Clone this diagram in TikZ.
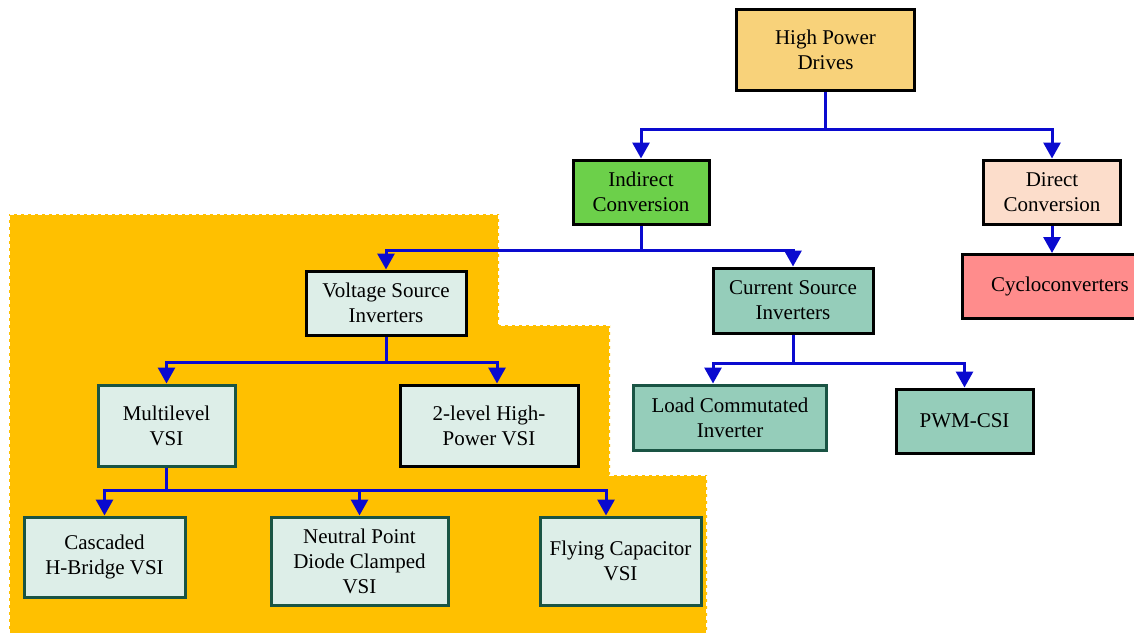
\documentclass[tikz,border=0pt]{standalone}
\usepackage{fontspec}
\setmainfont{Liberation Serif}
\usetikzlibrary{arrows.meta}
\definecolor{linkblue}{HTML}{0A0ACF}
\definecolor{bordergreen}{HTML}{1A5444}
\definecolor{regionorange}{HTML}{FFC000}
\definecolor{fillhpd}{HTML}{F8D27A}
\definecolor{fillind}{HTML}{6CD04A}
\definecolor{filldir}{HTML}{FCDDCB}
\definecolor{fillcyc}{HTML}{FF8C8C}
\definecolor{filllight}{HTML}{DDEEE8}
\definecolor{fillcsi}{HTML}{95CDBA}
\begin{document}
\begin{tikzpicture}[x=1pt,y=-1pt,
  box/.style={draw=black, line width=3pt, align=center, inner sep=0pt,
    font=\fontsize{21}{25}\selectfont},
  gbox/.style={box, draw=bordergreen, line width=3pt},
  conn/.style={draw=linkblue, line width=3pt},
  arr/.style={conn, -{Triangle[width=17pt,length=16pt]}},
  region/.style={fill=regionorange},
  regionedge/.style={draw=white, line width=2.2pt, dash pattern=on 4pt off 3pt}]
\useasboundingbox (0,0) rectangle (1134,632);
\clip (0,0) rectangle (1134,632);
\fill[white] (0,0) rectangle (1134,632);

% highlighted region
\path[region] (9,214) -- (499,214) -- (499,325) -- (610,325) -- (610,475)
  -- (707,475) -- (707,640) -- (9,640) -- cycle;
\path[regionedge] (9,640) -- (9,214) -- (499,214) -- (499,325) -- (610,325)
  -- (610,475) -- (707,475) -- (707,640);

% nodes
\node[box, fill=fillhpd, minimum width=178pt, minimum height=81pt] (hpd) at (825.5,50) {High Power\\Drives};
\node[box, fill=fillind, minimum width=136pt, minimum height=64pt] (ind) at (641,192) {Indirect\\Conversion};
\node[box, fill=filldir, minimum width=137pt, minimum height=64pt] (dir) at (1052,192) {Direct\\Conversion};
\node[box, fill=fillcyc, minimum width=196pt, minimum height=64pt] (cyc) at (1060,286.5) {Cycloconverters};
\node[box, fill=filllight, minimum width=160pt, minimum height=64pt] (vsi) at (386,303) {Voltage Source\\Inverters};
\node[box, fill=fillcsi, minimum width=160pt, minimum height=65pt] (csi) at (793,300.5) {Current Source\\Inverters};
\node[gbox, fill=filllight, minimum width=137pt, minimum height=81pt] (ml) at (166.5,425.5) {Multilevel\\VSI};
\node[box, fill=filllight, minimum width=178pt, minimum height=81pt] (tl) at (489,425.5) {2-level High-\\Power VSI};
\node[gbox, fill=fillcsi, minimum width=193pt, minimum height=65pt] (lci) at (730,417.5) {Load Commutated\\Inverter};
\node[box, fill=fillcsi, minimum width=137pt, minimum height=64pt] (pwm) at (964.5,421) {PWM-CSI};
\node[gbox, fill=filllight, minimum width=161pt, minimum height=80pt] (cas) at (104.5,557) {Cascaded\\H-Bridge VSI};
\node[gbox, fill=filllight, minimum width=177pt, minimum height=88pt] (npc) at (359.5,561) {Neutral Point\\Diode Clamped\\VSI};
\node[gbox, fill=filllight, minimum width=161pt, minimum height=88pt] (fc) at (620.5,561) {Flying Capacitor\\VSI};

% bus levels
\coordinate (b0) at (0,129);
\coordinate (b1) at (0,250);
\coordinate (b2) at (0,362);
\coordinate (b3) at (0,363);
\coordinate (b4) at (0,490);

% connectors
\draw[conn] (hpd.south) -- (hpd.south |- b0);
\draw[arr] (hpd.south |- b0) -| (ind.north);
\draw[arr] (hpd.south |- b0) -| (dir.north);

\draw[conn] (ind.south) -- (ind.south |- b1);
\draw[arr] (ind.south |- b1) -| (vsi.north);
\draw[arr] (ind.south |- b1) -| (csi.north);

\draw[arr] (dir.south) -- (dir.south |- cyc.north);

\draw[conn] (vsi.south) -- (vsi.south |- b2);
\draw[arr] (vsi.south |- b2) -| (ml.north);
\draw[arr] (vsi.south |- b2) -| ([xshift=8pt]tl.north);

\draw[conn] (csi.south) -- (csi.south |- b3);
\draw[arr] (csi.south |- b3) -| ([xshift=-17pt]lci.north);
\draw[arr] (csi.south |- b3) -| (pwm.north);

\draw[conn] (ml.south) -- (ml.south |- b4);
\draw[arr] (ml.south |- b4) -| (cas.north);
\draw[arr] (ml.south |- b4) -| (npc.north);
\draw[arr] (ml.south |- b4) -| ([xshift=-14.5pt]fc.north);
\end{tikzpicture}
\end{document}
